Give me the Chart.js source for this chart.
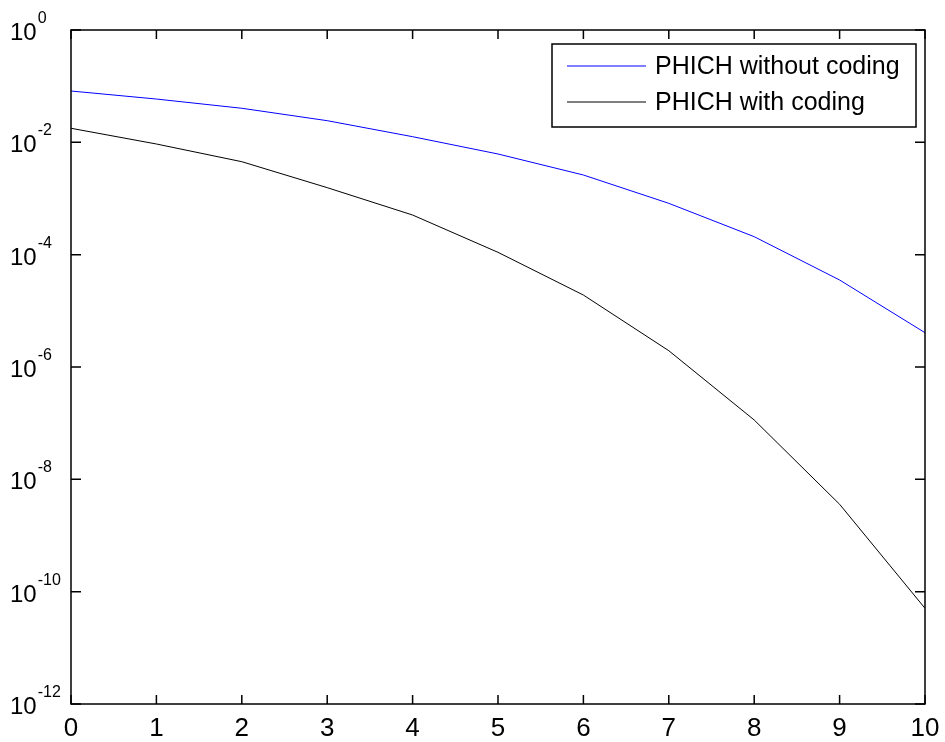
<!DOCTYPE html>
<html>
<head>
<meta charset="utf-8">
<script src="https://cdn.jsdelivr.net/npm/chart.js@4/dist/chart.umd.min.js"></script>
<style>
  html, body { margin: 0; padding: 0; background: #fff; }
  canvas { display: block; }
</style>
</head>
<body>
<canvas id="c" width="945" height="742"></canvas>
<script>
// ---- data ----
const snrValues = [0, 1, 2, 3, 4, 5, 6, 7, 8, 9, 10];
const withoutCoding = [0.082, 0.059, 0.0404, 0.0243, 0.0126, 0.0062, 0.00262, 8.2e-4, 2.09e-4, 3.54e-5, 4.08e-6];
const withCoding = [0.0178, 0.00934, 0.00452, 1.56e-3, 5.08e-4, 1.10e-4, 1.91e-5, 1.95e-6, 1.14e-7, 3.6e-9, 5.06e-11];
const seriesLabels = ['PHICH without coding', 'PHICH with coding'];
const xTickLabels = ['0', '1', '2', '3', '4', '5', '6', '7', '8', '9', '10'];
const yTickExponents = [0, -2, -4, -6, -8, -10, -12];

const FONT = '"Liberation Sans", Arial, Helvetica, sans-serif';

const matlabAxes = {
  id: 'matlabAxes',
  afterDraw(chart) {
    const ctx = chart.ctx;
    const a = chart.chartArea;
    const xs = chart.scales.x, ys = chart.scales.y;
    ctx.save();
    ctx.strokeStyle = '#000';
    ctx.fillStyle = '#000';
    // box
    ctx.lineWidth = 1.5;
    ctx.strokeRect(a.left, a.top, a.right - a.left, a.bottom - a.top);
    // x ticks (inward, top & bottom)
    ctx.font = '26px ' + FONT;
    ctx.textAlign = 'center';
    ctx.textBaseline = 'alphabetic';
    snrValues.forEach((v, i) => {
      const px = xs.getPixelForValue(v);
      ctx.beginPath();
      ctx.moveTo(px, a.bottom); ctx.lineTo(px, a.bottom - 9);
      ctx.moveTo(px, a.top); ctx.lineTo(px, a.top + 9);
      ctx.stroke();
      ctx.fillText(xTickLabels[i], px, 736);
    });
    // y ticks (inward, left & right) and labels 10^e
    yTickExponents.forEach(e => {
      const py = ys.getPixelForValue(Math.pow(10, e));
      ctx.beginPath();
      ctx.moveTo(a.left, py); ctx.lineTo(a.left + 10, py);
      ctx.moveTo(a.right, py); ctx.lineTo(a.right - 10, py);
      ctx.stroke();
      ctx.textAlign = 'left';
      ctx.font = '24px ' + FONT;
      ctx.fillText('10', 10, py + 10);
      const w = ctx.measureText('10').width;
      ctx.font = '16px ' + FONT;
      ctx.fillText(String(e), 10 + w + 1, py - 7);
    });
    // legend
    const lx = 552, ly = 44, lw = 364, lh = 83;
    ctx.fillStyle = '#fff';
    ctx.fillRect(lx, ly, lw, lh);
    ctx.lineWidth = 1.5;
    ctx.strokeStyle = '#000';
    ctx.strokeRect(lx, ly, lw, lh);
    ctx.font = '25px ' + FONT;
    ctx.textAlign = 'left';
    ctx.textBaseline = 'middle';
    chart.data.datasets.forEach((ds, i) => {
      const cy = 66 + i * 36;
      ctx.strokeStyle = ds.borderColor;
      ctx.lineWidth = 1;
      ctx.beginPath();
      ctx.moveTo(567, cy); ctx.lineTo(646, cy);
      ctx.stroke();
      ctx.fillStyle = '#000';
      ctx.fillText(ds.label, 655, cy + 1);
    });
    ctx.restore();
  }
};

new Chart(document.getElementById('c'), {
  type: 'line',
  data: {
    datasets: [
      {
        label: seriesLabels[0],
        data: snrValues.map((x, i) => ({ x: x, y: withoutCoding[i] })),
        borderColor: '#0000ff',
        borderWidth: 1,
        pointRadius: 0,
        tension: 0,
        fill: false
      },
      {
        label: seriesLabels[1],
        data: snrValues.map((x, i) => ({ x: x, y: withCoding[i] })),
        borderColor: '#000000',
        borderWidth: 1,
        pointRadius: 0,
        tension: 0,
        fill: false
      }
    ]
  },
  options: {
    responsive: false,
    animation: false,
    devicePixelRatio: 1,
    layout: { padding: { top: 30, right: 20, left: 0, bottom: 0 } },
    plugins: { legend: { display: false }, tooltip: { enabled: false } },
    scales: {
      x: {
        type: 'linear', min: 0, max: 10,
        grid: { display: false }, border: { display: false },
        ticks: { display: false, stepSize: 1 },
        afterFit(s) { s.height = 38; }
      },
      y: {
        type: 'logarithmic', min: 1e-12, max: 1,
        grid: { display: false }, border: { display: false },
        ticks: { display: false },
        afterFit(s) { s.width = 71; }
      }
    }
  },
  plugins: [matlabAxes]
});
</script>
</body>
</html>
